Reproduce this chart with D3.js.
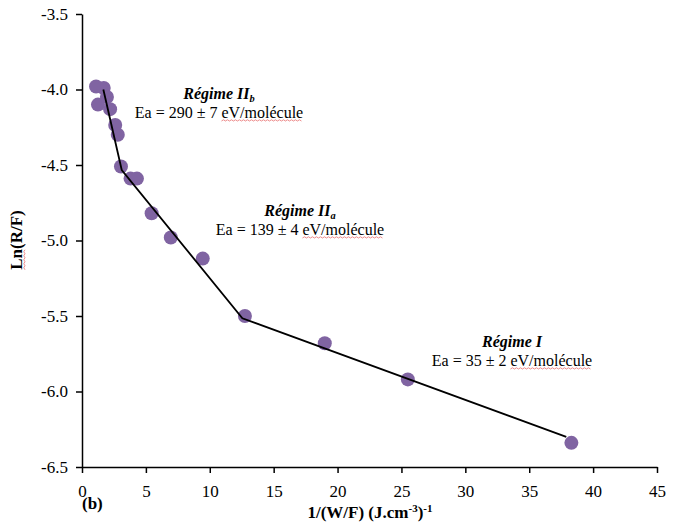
<!DOCTYPE html>
<html>
<head>
<meta charset="utf-8">
<script src="https://cdn.jsdelivr.net/npm/d3@7"></script>
<style>
    body { margin: 0; background: #fff; }
    svg { display: block; }
    text { font-family: "Liberation Serif", "Times New Roman", serif; fill: #000; }
</style>
</head>
<body>
<div id="chart"></div>
<script>
// Measured points: 1/(W/F) vs Ln(R/F)
const xVals = [1.1, 1.7, 1.95, 1.25, 2.2, 2.6, 2.8, 3.05, 3.8, 4.3, 5.45, 6.95, 9.45, 12.75, 19.0, 25.5, 38.3];
const yVals = [-3.98, -3.99, -4.05, -4.10, -4.13, -4.235, -4.30, -4.51, -4.59, -4.59, -4.82, -4.98, -5.12, -5.50, -5.68, -5.92, -6.34];

// Piecewise linear fit (three regimes)
const fitX = [1.67, 3.11, 12.55, 37.9];
const fitY = [-4.0, -4.533, -5.515, -6.30];

// Ticks
const xTicks = [0, 5, 10, 15, 20, 25, 30, 35, 40, 45];
const yTicks = [-3.5, -4.0, -4.5, -5.0, -5.5, -6.0, -6.5];

// Annotations
const regimeNames = ['Régime II', 'Régime II', 'Régime I'];
const regimeSubs = ['b', 'a', ''];
const regimeEa = ['Ea = 290 ± 7 ', 'Ea = 139 ± 4 ', 'Ea = 35 ± 2 '];
const regimeUnit = 'eV/molécule';

const width = 679;
const height = 529;

const svg = d3.select('#chart')
    .append('svg')
    .attr('width', width)
    .attr('height', height);

const xScale = d3.scaleLinear().domain([0, 45]).range([82, 657]);
const yScale = d3.scaleLinear().domain([-6.5, -3.5]).range([467, 14]);

// Axes
const xAxis = d3.axisBottom(xScale)
    .tickValues(xTicks)
    .tickSize(6)
    .tickSizeOuter(0)
    .tickPadding(12)
    .tickFormat(d => d);

const yAxis = d3.axisLeft(yScale)
    .tickValues(yTicks)
    .tickSize(6)
    .tickSizeOuter(0)
    .tickPadding(8)
    .tickFormat(d => d.toFixed(1));

const gx = svg.append('g')
    .attr('transform', `translate(0,${yScale(-6.5)})`)
    .call(xAxis);

const gy = svg.append('g')
    .attr('transform', `translate(${xScale(0)},0)`)
    .call(yAxis);

[gx, gy].forEach(g => {
    g.select('.domain').attr('stroke', '#000').attr('stroke-width', 1.5);
    g.selectAll('.tick line').attr('stroke', '#000').attr('stroke-width', 1.5);
    g.selectAll('.tick text')
        .style('font-family', '"Liberation Serif", "Times New Roman", serif')
        .style('font-size', '17px')
        .attr('fill', '#000');
});

// Points
const points = xVals.map((x, i) => ({x: x, y: yVals[i]}));

svg.append('g')
    .selectAll('circle')
    .data(points)
    .enter()
    .append('circle')
    .attr('cx', d => xScale(d.x))
    .attr('cy', d => yScale(d.y))
    .attr('r', 7)
    .attr('fill', '#8064A2');

// Fit line
const fitLine = d3.line()
    .x(d => xScale(d[0]))
    .y(d => yScale(d[1]));

svg.append('path')
    .datum(fitX.map((x, i) => [x, fitY[i]]))
    .attr('d', fitLine)
    .attr('fill', 'none')
    .attr('stroke', '#000')
    .attr('stroke-width', 1.8);

// red spell-check squiggle under a text range
function squiggle(parent, x0, x1, y) {
    let d = `M${x0},${y}`;
    let up = true;
    for (let x = x0 + 2; x <= x1; x += 2) {
        d += `L${x},${up ? y - 1.2 : y}`;
        up = !up;
    }
    parent.append('path')
        .attr('d', d)
        .attr('fill', 'none')
        .attr('stroke', '#e87070')
        .attr('stroke-width', 0.8);
}

// Annotation layout: center x, baseline y of title line, font size
const annotPos = [
    {cx: 219, y: 99, size: 16},
    {cx: 300, y: 216, size: 16},
    {cx: 512, y: 347, size: 16}
];

regimeNames.forEach((name, i) => {
    const p = annotPos[i];

    const title = svg.append('text')
        .attr('x', p.cx)
        .attr('y', p.y)
        .attr('text-anchor', 'middle')
        .style('font-size', p.size + 'px')
        .style('font-weight', 'bold')
        .style('font-style', 'italic');
    title.append('tspan').text(name);
    if (regimeSubs[i]) {
        title.append('tspan')
            .attr('dy', 3)
            .style('font-size', (p.size * 0.65) + 'px')
            .text(regimeSubs[i]);
    }

    const ea = svg.append('text')
        .attr('x', p.cx)
        .attr('y', p.y + 19)
        .attr('text-anchor', 'middle')
        .style('font-size', p.size + 'px')
        .text(regimeEa[i] + regimeUnit);

    const node = ea.node();
    const start = regimeEa[i].length;
    const n = node.getNumberOfChars();
    const sx = node.getStartPositionOfChar(start).x;
    const ex = node.getEndPositionOfChar(n - 1).x;
    squiggle(svg, sx, ex, p.y + 22);
});

// Axis titles
const xTitle = svg.append('text')
    .attr('x', 370)
    .attr('y', 518)
    .attr('text-anchor', 'middle')
    .style('font-size', '17px')
    .style('font-weight', 'bold');
xTitle.append('tspan').text('1/(W/F) (J.cm');
xTitle.append('tspan').attr('dy', -6).style('font-size', '11px').text('-3');
xTitle.append('tspan').attr('dy', 6).text(')');
xTitle.append('tspan').attr('dy', -6).style('font-size', '11px').text('-1');

const yTitle = svg.append('text')
    .attr('transform', 'translate(22,240) rotate(-90)')
    .attr('text-anchor', 'middle')
    .style('font-size', '17px')
    .style('font-weight', 'bold')
    .text('Ln(R/F)');

// squiggle under "Ln" in rotated title
const yNode = yTitle.node();
const lnStart = yNode.getStartPositionOfChar(0).x;
const lnEnd = yNode.getEndPositionOfChar(1).x;
const sq = svg.append('g').attr('transform', 'translate(22,240) rotate(-90)');
squiggle(sq, lnStart, lnEnd, 3);

svg.append('text')
    .attr('x', 82)
    .attr('y', 509)
    .style('font-size', '17px')
    .style('font-weight', 'bold')
    .text('(b)');
</script>
</body>
</html>
